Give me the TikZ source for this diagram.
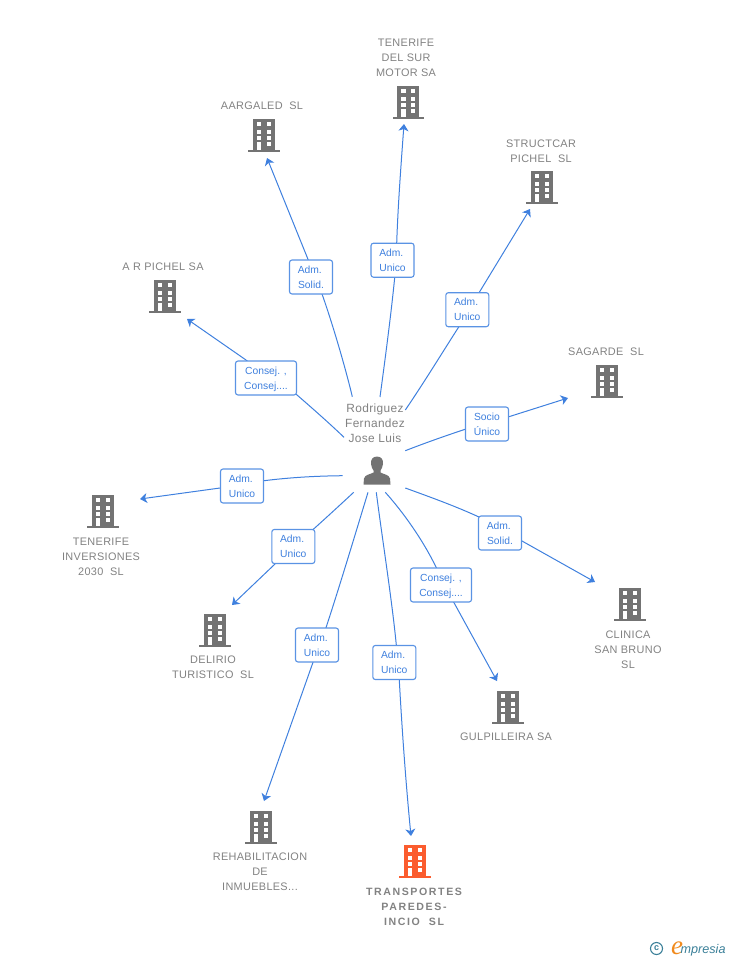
\documentclass[tikz,border=0pt]{standalone}
\usepackage{fontspec}
\setmainfont{Liberation Sans}
\newfontfamily\namefont[LetterSpace=3]{Liberation Sans}
\newfontfamily\mainnamefont[LetterSpace=15]{Liberation Sans}
\newfontfamily\personfont[LetterSpace=3]{Liberation Sans}
\newfontfamily\logoserif{Liberation Serif}
\usetikzlibrary{arrows.meta,backgrounds}
\definecolor{linkblue}{HTML}{3F80DE}
\definecolor{boxblue}{HTML}{5A93E4}
\definecolor{greytxt}{HTML}{828282}
\definecolor{bldgrey}{HTML}{737373}
\definecolor{bldred}{HTML}{FB5C2E}
\definecolor{logoteal}{HTML}{3A7F98}
\definecolor{logoorange}{HTML}{F08A1D}
\newcommand{\admword}{Adm.\hspace*{2.4pt}}
\tikzset{
  x=1pt,y=-1pt,
  link/.style={draw=linkblue,line width=1pt},
  linkarrow/.style={link,-{Stealth[length=7pt,width=10pt,inset=2pt]}},
  rolebox/.style={draw=boxblue,fill=white,rounded corners=2.5pt,line width=1.1pt,text=linkblue,
    font=\fontsize{10.3}{15}\selectfont,align=center,inner sep=0pt,minimum height=34pt,
    text height=22.4pt,text depth=0pt},
  namelabel/.style={text=greytxt,font=\namefont\fontsize{10.9}{15}\selectfont,align=center,inner sep=0pt,yshift=-1pt},
  mainname/.style={namelabel,font=\mainnamefont\bfseries\fontsize{10.6}{15}\selectfont},
  personname/.style={text=greytxt,font=\personfont\fontsize{11.9}{15}\selectfont,align=center,inner sep=0pt},
  pics/tower/.style={code={
    \fill[#1] (-11,-17) rectangle (11,14);
    \fill[#1] (-15.8,13.8) rectangle (15.8,16.4);
    \foreach \wx in {-7,2.7}{\foreach \wy/\wh in {-14/4.3,-6.3/4,0.3/3.6}{
      \fill[white] (\wx,\wy) rectangle +(4.4,\wh);}}
    \fill[white] (2.7,6.3) rectangle +(4.4,4);
    \fill[white] (-7,6.3) rectangle (-2.6,13.9);
  }},
}
\begin{document}
\begin{tikzpicture}
\useasboundingbox (0,0) rectangle (728,960);
% buildings
\pic at (408.3,103) {tower=bldgrey};
\pic at (264,136) {tower=bldgrey};
\pic at (542,188) {tower=bldgrey};
\pic at (165,297) {tower=bldgrey};
\pic at (607,382) {tower=bldgrey};
\pic at (630,605) {tower=bldgrey};
\pic at (508,708) {tower=bldgrey};
\pic at (415,862) {tower=bldred};
\pic at (261,828) {tower=bldgrey};
\pic at (215,631) {tower=bldgrey};
\pic at (103,512) {tower=bldgrey};
% names
\node[namelabel] (nTS) at (406,57) {TENERIFE\\DEL SUR\\MOTOR SA};
\node[namelabel] (nAA) at (262,105) {AARGALED\ \ SL};
\node[namelabel] (nST) at (541,150) {STRUCTCAR\\PICHEL\ \ SL};
\node[namelabel] (nAR) at (163,266) {A R PICHEL SA};
\node[namelabel] (nSA) at (606,351) {SAGARDE\ \ SL};
\node[namelabel] (nCL) at (628,649) {CLINICA\\SAN BRUNO\\SL};
\node[namelabel] (nGU) at (506,736) {GULPILLEIRA SA};
\node[mainname] (nTR) at (414,906) {TRANSPORTES\\PAREDES-\\INCIO\ \ SL};
\node[namelabel] (nRE) at (260,871) {REHABILITACION\\DE\\INMUEBLES...};
\node[namelabel] (nDE) at (213,666) {DELIRIO\\TURISTICO\ \ SL};
\node[namelabel] (nTI) at (101,556) {TENERIFE\\INVERSIONES\\2030\ \ SL};
% person
\node[personname] (person) at (375,423) {Rodriguez\\Fernandez\\Jose Luis};
\fill[bldgrey] (377,456.5) .. controls (372.5,456.5) and (370.5,460) .. (371,464)
  .. controls (371.3,467) and (372.5,469) .. (373.5,470.5) -- (373.5,472.5)
  .. controls (370,474.5) and (365,474.5) .. (364,478.5) -- (363.5,484.5) -- (390.5,484.5) -- (390,478.5)
  .. controls (389,474.5) and (384,474.5) .. (380.5,472.5) -- (380.5,470.5)
  .. controls (381.5,469) and (382.7,467) .. (383,464)
  .. controls (383.5,460) and (381.5,456.5) .. (377,456.5) -- cycle;
% role boxes
\node[rolebox,minimum width=43pt] (b1) at (392.5,260.2) {\admword\\Unico};
\node[rolebox,minimum width=43pt] (b2) at (311,277) {\admword\\Solid.};
\node[rolebox,minimum width=43pt] (b3) at (467.3,309.7) {\admword\\Unico};
\node[rolebox,minimum width=61pt] (b4) at (266,378) {Consej. ,\\Consej....};
\node[rolebox,minimum width=43pt] (b5) at (487,424) {Socio\\Único};
\node[rolebox,minimum width=43pt] (b6) at (500,533) {\admword\\Solid.};
\node[rolebox,minimum width=61pt] (b7) at (441,585) {Consej. ,\\Consej....};
\node[rolebox,minimum width=43pt] (b8) at (394.3,662.5) {\admword\\Unico};
\node[rolebox,minimum width=43pt] (b9) at (317,645) {\admword\\Unico};
\node[rolebox,minimum width=43pt] (b10) at (293.3,546.5) {\admword\\Unico};
\node[rolebox,minimum width=43pt] (b11) at (242,486) {\admword\\Unico};
% free ends: s = start near the person, e/x = where the line meets the box, t = arrow tip
\coordinate (s1) at (380,397);       \coordinate (e1) at (394.7,277.5);  \coordinate (x1) at (396.7,243);  \coordinate (t1) at (404,124);
\coordinate (s2) at (352.3,396.7);   \coordinate (e2) at (322,294);      \coordinate (x2) at (308,259.3);  \coordinate (t2) at (267,158);
\coordinate (s3) at (405.3,410);     \coordinate (e3) at (458.7,327);    \coordinate (x3) at (479.3,292.3);\coordinate (t3) at (530,209);
\coordinate (s4) at (344,437.3);     \coordinate (e4) at (296.7,394.7);  \coordinate (x4) at (246,360);    \coordinate (t4) at (187,319);
\coordinate (s5) at (405.3,450.7);   \coordinate (e5) at (465,429.3);    \coordinate (x5) at (508,417);    \coordinate (t5) at (568,398);
\coordinate (s6) at (405.3,488);     \coordinate (e6) at (478.3,516.7);  \coordinate (x6) at (522,541);    \coordinate (t6) at (595,582);
\coordinate (s7) at (385.3,492.3);   \coordinate (e7) at (436.3,567.7);  \coordinate (x7) at (454,602.7);  \coordinate (t7) at (497,681);
\coordinate (s8) at (376.3,492.3);   \coordinate (e8) at (396.3,645);    \coordinate (x8) at (399.3,680);  \coordinate (t8) at (411,836);
\coordinate (s9) at (368,492.3);     \coordinate (e9) at (326,627.7);    \coordinate (x9) at (313,662.3);  \coordinate (t9) at (264,801);
\coordinate (s10) at (353.7,492.3);  \coordinate (e10) at (313.3,529.3); \coordinate (x10) at (275,564);   \coordinate (t10) at (232,605);
\coordinate (s11) at (342.7,475.7);  \coordinate (e11) at (264,480.7);   \coordinate (x11) at (220,488);   \coordinate (t11) at (140,499);
\begin{scope}[on background layer]
\draw[link] (s1) .. controls (385,360) and (391,315) .. (e1) -- (b1.center);
\draw[linkarrow] (b1.center) -- (x1) .. controls (398,205) and (401,165) .. (t1);
\draw[link] (s2) .. controls (346,370) and (333,325) .. (e2) -- (b2.center);
\draw[linkarrow] (b2.center) -- (x2) -- (t2);
\draw[link] (s3) .. controls (425,381) and (442,353) .. (e3) -- (b3.center);
\draw[linkarrow] (b3.center) -- (x3) -- (t3);
\draw[link] (s4) .. controls (328,422) and (312,408) .. (e4) -- (b4.center);
\draw[linkarrow] (b4.center) -- (x4) -- (t4);
\draw[link] (s5) .. controls (425,443) and (445,436) .. (e5) -- (b5.center);
\draw[linkarrow] (b5.center) -- (x5) -- (t5);
\draw[link] (s6) .. controls (430,497) and (455,506) .. (e6) -- (b6.center);
\draw[linkarrow] (b6.center) -- (x6) -- (t6);
\draw[link] (s7) .. controls (403,512) and (423,540) .. (e7) -- (b7.center);
\draw[linkarrow] (b7.center) -- (x7) -- (t7);
\draw[link] (s8) .. controls (381,530) and (392,600) .. (e8) -- (b8.center);
\draw[linkarrow] (b8.center) -- (x8) .. controls (402,730) and (406,785) .. (t8);
\draw[link] (s9) .. controls (355,535) and (340,585) .. (e9) -- (b9.center);
\draw[linkarrow] (b9.center) -- (x9) -- (t9);
\draw[link] (s10) .. controls (340,505) and (327,517) .. (e10) -- (b10.center);
\draw[linkarrow] (b10.center) -- (x10) -- (t10);
\draw[link] (s11) .. controls (315,476) and (290,477.5) .. (e11) -- (b11.center);
\draw[linkarrow] (b11.center) -- (x11) -- (t11);
\end{scope}
% logo
\node[draw=logoteal,line width=1.1pt,circle,inner sep=0pt,minimum size=12pt,text=logoteal,font=\bfseries\fontsize{9}{9}\selectfont] (logoc) at (656.5,948.5) {c};
\node[text=logoorange,font=\logoserif\itshape\fontsize{27}{27}\selectfont,inner sep=0pt] (logoe) at (677,948) {e};
\node[text=logoteal,font=\itshape\fontsize{12.6}{12.6}\selectfont,inner sep=0pt,anchor=west] (logot) at (680.5,950) {mpresia};
\end{tikzpicture}
\end{document}
